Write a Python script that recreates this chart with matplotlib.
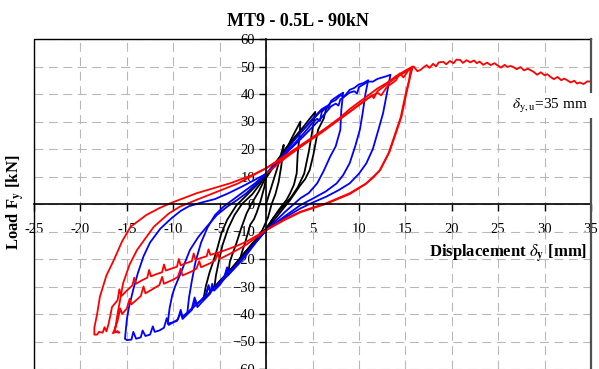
import matplotlib
matplotlib.use('Agg')
import matplotlib.pyplot as plt
from matplotlib.patches import Rectangle

plt.rcParams['font.family'] = ['Liberation Serif', 'DejaVu Serif']
plt.rcParams['mathtext.fontset'] = 'stix'

# ---------------- data (displacement mm, load kN) ----------------
x_ticks = [-25, -20, -15, -10, -5, 0, 5, 10, 15, 20, 25, 30, 35]
x_tick_labels = ['-25', '-20', '-15', '-10', '-5', '', '5', '10', '15', '20', '25', '30', '35']
y_ticks = [-60, -50, -40, -30, -20, -10, 0, 10, 20, 30, 40, 50, 60]

# black cycles
blk1 = [(0, 0), (0.6, 6.5), (1.2, 13), (1.6, 18), (1.9, 21.5), (1.8, 18), (1.6, 13), (1.35, 8),
        (1.0, 3.5), (0.6, 0), (0.2, -5), (-0.4, -9.5), (-1.0, -12.5), (-1.6, -15), (-2.2, -17.5),
        (-2.8, -20), (-2.6, -17.5), (-2.3, -14.5), (-2.0, -11), (-1.7, -7.5), (-1.3, -5.5),
        (-1.0, -3), (-0.6, 1), (-0.2, 6), (0, 9.5)]
blk2 = [(0, 9.5), (0.8, 13.5), (1.6, 17.5), (2.4, 21.5), (3.0, 25.5), (3.7, 30), (3.6, 25),
        (3.4, 18), (3.3, 11.2), (3.0, 7), (2.6, 4), (2.2, 1.5), (1.4, -2), (0.6, -6), (0, -9),
        (-0.8, -12), (-1.6, -15), (-2.4, -18), (-3.2, -21.5), (-3.7, -23.5), (-4.1, -26),
        (-3.9, -21), (-3.6, -18), (-3.2, -14.3), (-2.7, -9), (-2.1, -3.4), (-1.5, 0.5),
        (-0.8, 4.5), (0, 10)]
blk3 = [(0, 10), (1, 14.5), (2, 19.5), (3, 24), (4, 28), (4.7, 31), (5.3, 33.5), (5.0, 27),
        (4.6, 19), (4.1, 11), (3.4, 6), (2.7, 2.5), (1.8, -1), (0.8, -5), (0, -9), (-1, -12.5),
        (-2, -16.5), (-3, -20.5), (-4, -24.5), (-4.8, -27.5), (-5.6, -31), (-5.4, -26),
        (-5.1, -21), (-4.7, -15), (-4.1, -9), (-3.4, -4), (-2.6, 0), (-1.5, 3.5), (-0.6, 7.5),
        (0, 10.5)]
blk4 = [(0, 10.5), (1, 15), (2, 19.5), (3, 23.5), (4, 27), (5, 30.5), (5.8, 33.5), (6.5, 35),
        (6.2, 31), (5.6, 27), (5.1, 18), (4.7, 12.4), (4.2, 9), (3.7, 6.9), (2.6, 1.5),
        (1.3, -4), (0, -9.5), (-1, -13), (-2, -17), (-3, -21), (-4, -24.5), (-5, -28),
        (-5.8, -31), (-6.4, -33.5), (-6.75, -34.7), (-6.5, -30), (-6.1, -25), (-5.7, -21),
        (-5.3, -16.7), (-4.8, -10.5), (-4.2, -5.8), (-3.2, -0.5), (-2.0, 3.5), (-0.8, 7.6),
        (0, 11)]

# blue cycles
blu1 = [(0, 11), (1, 14.5), (2, 18.5), (3, 23), (4, 27), (5, 31), (6, 34.5), (6.5, 35.5),
        (6.7, 34.8), (7, 37.5), (7.6, 39), (8.3, 40.5), (8.1, 34), (8.0, 27), (7.5, 21),
        (6.9, 17.2), (6.2, 12), (5.5, 7.5), (4.6, 4), (3.7, 2.1), (2.0, -3), (0, -9.5),
        (-1, -13.5), (-2, -17.5), (-3, -21.5), (-4, -25), (-4.2, -23), (-4.5, -26.5), (-5, -28.5),
        (-6, -32), (-6.2, -30), (-6.5, -33.5), (-7, -35), (-7.8, -37.5), (-8.5, -40),
        (-8.3, -34), (-8.0, -28), (-7.6, -21), (-7.0, -14), (-6.3, -8.5), (-5.5, -4),
        (-4.6, -1), (-3.6, 1.5), (-2.4, 4.5), (-1.2, 7.5), (0, 11)]
blu2 = [(0, 11), (2, 18), (4, 25.5), (5, 29.5), (5.5, 31), (5.8, 30.2), (6, 33.5), (7, 37),
        (7.5, 37.8), (8, 39.5), (8.4, 39), (9, 41.5), (9.5, 42.2), (10, 43.5), (10.5, 44),
        (11, 45), (10.7, 40), (10.4, 33), (10.1, 27), (9.6, 21), (9.0, 14.8), (8.3, 10.5),
        (7.6, 7.5), (6.4, 4.5), (5.1, 2.1), (3.7, -0.4), (2, -4.5), (0, -9.5), (-1, -13.5),
        (-2, -17.5), (-3, -21.5), (-4, -25.5), (-4.2, -23.5), (-4.5, -27), (-5, -29.5),
        (-5.6, -31.5), (-5.8, -29), (-6, -32.5), (-7, -36), (-7.4, -37.5), (-7.6, -35),
        (-8, -38.5), (-8.6, -40.5), (-9.0, -41.8), (-9.2, -39.5), (-9.6, -42.5), (-10, -43),
        (-10.6, -43.5), (-10.4, -38), (-10.1, -33), (-9.8, -30), (-9.3, -26), (-8.2, -16.7),
        (-7.3, -12), (-6.4, -8.3), (-5.3, -4), (-4.2, -1), (-3.1, 1.5), (-2.1, 4), (-1, 7.5),
        (0, 11)]
blu3 = [(0, 11), (2, 18), (4, 24.5), (5, 28), (6, 31.5), (6.5, 33.5), (7, 35.5), (7.5, 36.5),
        (7.8, 35.8), (8, 38), (9, 40.5), (9.5, 41), (9.8, 40.2), (10, 42.5), (11, 44.5),
        (11.5, 44.5), (12, 45.5), (12.5, 46), (13, 46.5), (13.4, 47),
        (13.0, 40), (12.6, 33), (12.1, 27), (11.5, 20), (10.8, 14.8), (10.0, 11), (9.0, 7.5),
        (7.8, 5), (6.5, 2.7), (5.0, 0.5), (3.7, -1.6), (2.0, -5), (0, -9.5),
        (-1, -13.5), (-2, -18), (-3, -22), (-4, -25.5), (-5, -29), (-6, -32), (-6.2, -29.5),
        (-6.5, -33), (-7, -35), (-7.5, -36.5), (-7.7, -34), (-8, -38), (-8.5, -39.5),
        (-9, -41), (-9.2, -38.5), (-9.5, -42), (-10, -43), (-10.5, -44), (-10.7, -41.5),
        (-11, -45), (-11.5, -46), (-12, -46.5), (-12.2, -44.5), (-12.5, -47.5), (-13, -48),
        (-13.3, -46), (-13.5, -48.5), (-14, -49), (-14.3, -46.5), (-14.5, -49.3), (-15, -49.5),
        (-15.2, -49),
        (-15.0, -42), (-14.8, -38), (-14.3, -31), (-13.8, -25), (-13.2, -19), (-12.5, -14),
        (-11.4, -9), (-10.2, -5.2), (-9.2, -2.5), (-8.3, -0.8), (-7.0, 0.5), (-5.5, 1.8),
        (-4.0, 4), (-2.5, 6.5), (-1.2, 8.8), (0, 11)]

# red cycles
red1 = [(0, 11), (2, 16.5), (4, 21.5), (6, 26.5), (8, 31.5), (9, 34.5), (10, 37), (11, 39.5),
        (12, 42), (13, 44), (14, 46.5), (15, 48.5), (15.8, 50),
        (15.5, 46), (15.1, 40), (14.6, 32), (14.1, 26.9), (13.3, 19), (12.3, 12.4),
        (11.5, 9.5), (10.8, 7.5), (9, 3.9), (6.5, 0.3), (3.7, -2.8), (2, -5.5), (0, -9.5),
        (-1, -12), (-2, -14.5), (-3, -16.5), (-4, -18.3), (-5, -20), (-5.2, -18), (-5.5, -20.5),
        (-6, -21.5), (-7, -23), (-7.2, -20.8), (-7.5, -23.5), (-8, -24.5), (-9, -26),
        (-9.2, -23.5), (-9.5, -26.5), (-10, -27.5), (-11, -29), (-11.2, -26.5), (-11.5, -29.5),
        (-12, -30.5), (-13, -32.5), (-13.2, -30), (-13.5, -33.5), (-14, -35), (-14.5, -36.5),
        (-14.7, -34.5), (-15, -38), (-15.5, -40), (-15.7, -38), (-16, -42.5), (-16.3, -45.5),
        (-16.5, -47), (-16.0, -46.2), (-15.8, -46.8),
        (-16.3, -46.5), (-16.0, -40), (-15.4, -28.8), (-14.7, -22), (-13.9, -16.7),
        (-12.1, -8.3), (-10.5, -3.5), (-9.3, -1), (-7.5, 1.5), (-5.7, 3.9), (-3, 7.5), (0, 13)]
red2 = [(0, 13), (2, 17.5), (4, 22), (6, 26.5), (8, 31), (10, 36), (11, 38.5), (11.4, 39.5),
        (11.6, 38.5), (12, 41), (13, 43.5), (14, 46), (15, 48), (15.6, 49.5),
        (15.4, 45), (15.0, 39.5), (14.5, 31.5), (14.0, 26.5), (13.2, 18.5), (12.2, 12),
        (10.7, 7.2), (9, 3.6), (6.5, 0.1), (3.7, -3), (2, -5.8), (0, -9.5),
        (-1, -11.5), (-2, -13.5), (-3, -15), (-4, -16.3), (-5, -17.5), (-6, -18.5),
        (-6.2, -16.5), (-6.4, -19), (-7, -19.6), (-7.6, -20.3), (-7.8, -18), (-8, -20.8),
        (-8.6, -21.5), (-9.2, -22.3), (-9.4, -20), (-9.6, -22.8), (-10.2, -23.5),
        (-10.8, -24.2), (-11, -22), (-11.2, -24.8), (-11.8, -25.5), (-12.4, -26.3),
        (-12.6, -24), (-12.8, -26.8), (-13.4, -27.8), (-14, -29), (-14.2, -26.8),
        (-14.4, -29.6), (-15, -31.5), (-15.6, -33.5), (-15.8, -31), (-16, -35),
        (-16.6, -37.5), (-16.8, -41), (-17, -44), (-17.2, -46.3), (-17.4, -44.8),
        (-17.6, -46.8), (-18, -46.5), (-18.2, -47.5), (-18.5, -47.5),
        (-18.5, -45), (-18.2, -40), (-17.9, -33.7), (-17.2, -26), (-16.4, -20.4),
        (-15.5, -13.5), (-14.6, -8.3), (-12.9, -4), (-11.5, -1.5), (-10.3, 0.3), (-7.5, 3.9),
        (-3.9, 7.5), (-1.5, 10.5), (0, 13)]
red3 = [(0, 13), (2, 17), (4, 21.5), (6, 26), (7, 28.5), (8, 31), (9, 33.5), (10, 36),
        (11, 38.5), (12, 40.5), (12.4, 39.5), (13, 42.5), (14, 45), (14.4, 47.5), (14.8, 46),
        (15.3, 48.5), (15.9, 50), (16.3, 48.3), (16.6, 48.7), (17, 49.8), (17.3, 50.5),
        (17.6, 49.5), (18, 51), (18.3, 50), (18.6, 51.5), (19.1, 51.7), (19.4, 50.8),
        (19.8, 52), (20.2, 51.2), (20.5, 52.5), (20.9, 52.4), (21.2, 51.3), (21.6, 52.3),
        (22, 51.5), (22.4, 52.2), (22.7, 51.2), (23, 51.8), (23.4, 50.6), (23.8, 51.4),
        (24.2, 50.5), (24.6, 51.2), (24.9, 50.5), (25.3, 49.6), (25.7, 50.6), (26, 49.8),
        (26.3, 50.2), (26.6, 49.9), (27, 49), (27.4, 49.8), (27.8, 48.6), (28.2, 49.2),
        (28.8, 48.1), (29.2, 47), (29.6, 47.9), (30, 46.8), (30.3, 47.2), (30.6, 46.3),
        (31, 45.4), (31.4, 46.2), (31.8, 45), (32.1, 45.6), (32.4, 45.1), (32.8, 44.2),
        (33.2, 44.8), (33.5, 43.8), (33.8, 44.2), (34.2, 43.6), (34.6, 44.6), (35, 44.5)]

black_cycles = [blk1, blk2, blk3, blk4]
blue_cycles = [blu1, blu2, blu3]
red_cycles = [red1, red2, red3]

# ---------------- figure ----------------
fig = plt.figure(figsize=(5.99, 3.69), dpi=100)
ax = fig.add_axes([34 / 599, 0.0, 557 / 599, 330 / 369])
ax.set_xlim(-25, 35)
ax.set_ylim(-60, 60)

ax.grid(True, color='#b8b8b8', linestyle=(0, (8, 5)), linewidth=0.8, zorder=0)
ax.set_axisbelow(True)

for cyc in black_cycles:
    xs, ys = zip(*cyc)
    ax.plot(xs, ys, color='black', lw=1.3, zorder=2)
for cyc in blue_cycles:
    xs, ys = zip(*cyc)
    ax.plot(xs, ys, color='#0000ff', lw=1.3, zorder=3)
for cyc in red_cycles:
    xs, ys = zip(*cyc)
    ax.plot(xs, ys, color='#ff0000', lw=1.3, zorder=4)

# centred axes
ax.spines['left'].set_position(('data', 0))
ax.spines['bottom'].set_position(('data', 0))
ax.spines['top'].set_visible(False)
ax.spines['right'].set_visible(False)
for s in ('left', 'bottom'):
    ax.spines[s].set_linewidth(1.2)
    ax.spines[s].set_zorder(5)

ax.set_xticks(x_ticks)
ax.set_xticklabels(x_tick_labels)
ax.set_yticks(y_ticks)
ax.tick_params(axis='x', direction='out', length=5, width=1, labelsize=10.5, pad=9)
ax.tick_params(axis='y', direction='out', length=5, width=1, labelsize=10.5, pad=3)

# plot area frame
ax.plot([0, 0, 1], [0, 1, 1], transform=ax.transAxes, color='black', lw=1.0,
        clip_on=False, zorder=6)
ax.plot([1, 1], [0, 1], transform=ax.transAxes, color='#505050', lw=1.6,
        clip_on=False, zorder=6)

# annotation with white box
ax.add_patch(Rectangle((0.856, 0.7606), 0.155, 0.076, transform=ax.transAxes,
                       facecolor='white', edgecolor='none', clip_on=False, zorder=7))
ax.text(30.6, 35.8, r'$\delta_{\mathrm{y,u}}$=35 mm', ha='center', va='center',
        fontsize=11, zorder=8)

fig.text(0.497, 0.943, 'MT9 - 0.5L - 90kN', ha='center', va='center',
         fontsize=13, fontweight='bold')
fig.text(16 / 599, 1 - 202 / 369, r'Load F$_{\mathbf{y}}$ [kN]', rotation=90,
         ha='center', va='center', fontsize=12, fontweight='bold')
fig.text(587 / 599, 1 - 254 / 369, r'Displacement $\delta_{\mathbf{y}}$ [mm]',
         ha='right', va='center', fontsize=12, fontweight='bold')

fig.savefig('out.png', dpi=100)
